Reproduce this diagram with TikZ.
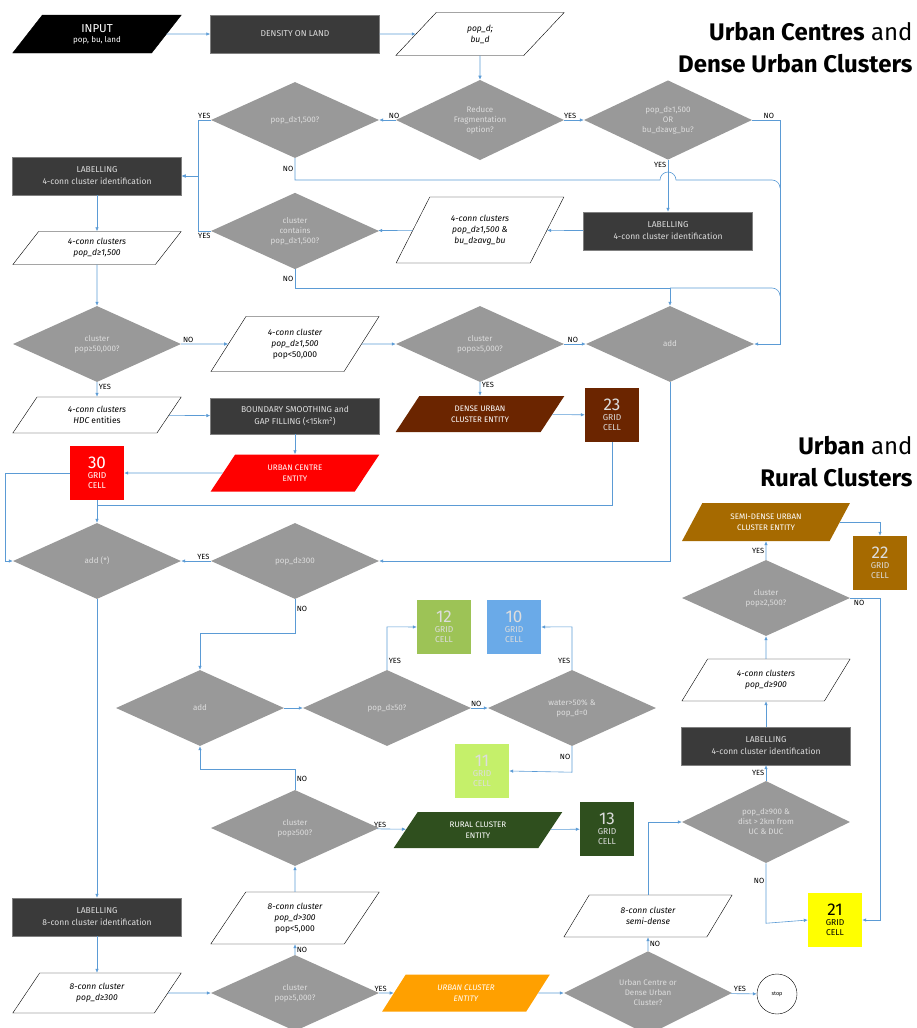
\documentclass[tikz,border=0pt]{standalone}
\usepackage{fontspec}
\setmainfont{Fira Sans}
\usetikzlibrary{shapes.geometric,arrows.meta,positioning}

\definecolor{flowblue}{HTML}{5B9BD5}
\definecolor{diagray}{HTML}{999999}
\definecolor{procgray}{HTML}{3A3A3A}
\definecolor{dimtext}{HTML}{DDDDDD}
\definecolor{ucred}{HTML}{FF0000}
\definecolor{ducbrown}{HTML}{6B2500}
\definecolor{sducbrown}{HTML}{A66A00}
\definecolor{rcgreen}{HTML}{2F4F1E}
\definecolor{lowgreen}{HTML}{9DC356}
\definecolor{verylow}{HTML}{C5F06A}
\definecolor{watblue}{HTML}{6AAAE8}
\definecolor{ucyellow}{HTML}{FFFF00}
\definecolor{ucorange}{HTML}{FFA000}

\tikzset{
  dia/.style = {diamond, fill=diagray, text=dimtext, minimum width=168pt, minimum height=76pt,
                inner sep=0pt, align=center, font=\fontsize{8}{10}\selectfont},
  proc/.style = {rectangle, fill=procgray, draw=gray, text=dimtext, minimum width=169pt,
                 minimum height=38pt, align=center, font=\fontsize{8.5}{12}\selectfont},
  io/.style = {trapezium, trapezium left angle=58, trapezium right angle=122, trapezium stretches=true,
               draw=black, fill=white, minimum width=169pt, minimum height=38pt, inner sep=1pt,
               align=center, font=\itshape\fontsize{8.5}{11}\selectfont},
  entity/.style = {io, draw=none, text=white, font=\fontsize{8}{11}\selectfont},
  cell/.style = {rectangle, minimum size=54pt, inner sep=0pt, align=center, text=dimtext,
                 font=\fontsize{8.5}{10}\selectfont},
  lbl/.style = {font=\fontsize{7.5}{8}\selectfont, inner sep=1.5pt},
  arr/.style = {draw=flowblue, line width=0.6pt, -{Latex[length=4pt,width=3.5pt]}},
  ln/.style = {draw=flowblue, line width=0.6pt},
}
\newcommand{\num}[1]{{\fontsize{17}{18}\selectfont #1}}

\begin{document}
\begin{tikzpicture}[x=1pt,y=-1pt]
\useasboundingbox (0,0) rectangle (917,1028);

% titles
\node[anchor=east, font=\fontsize{24}{26}\selectfont] (title1) at (916,32) {\textbf{Urban Centres} and};
\node[anchor=east, font=\fontsize{24}{26}\selectfont] (title2) at (916,64) {\textbf{Dense Urban Clusters}};
\node[anchor=east, font=\fontsize{24}{26}\selectfont] (title3) at (916,446) {\textbf{Urban} and};
\node[anchor=east, font=\fontsize{24}{26}\selectfont] (title4) at (916,478) {\textbf{Rural Clusters}};

% urban centres and dense urban clusters
\node[io, fill=black, text=white, font=\fontsize{8}{10}\selectfont] (input) at (97,34) {{\fontsize{11.5}{13}\selectfont INPUT}\\pop, bu, land};
\node[proc] (dens) at (295,34) {DENSITY ON LAND};
\node[io, minimum height=43pt] (popd) at (480,34) {pop\_d;\\bu\_d};
\node[dia] (redfrag) at (480,120) {Reduce\\Fragmentation\\option?};
\node[dia] (hd1500) at (295,120) {pop\_d≥1,500?};
\node[dia] (hdor) at (668,120) {pop\_d≥1,500\\OR\\bu\_d≥avg\_bu?};
\node[proc] (lab4a) at (97,176) {LABELLING\\4-conn cluster identification};
\node[proc] (lab4b) at (668,231) {LABELLING\\4-conn cluster identification};
\node[io, minimum height=66pt] (c4ab) at (480,230) {4-conn clusters\\pop\_d≥1,500 \&\\bu\_d≥avg\_bu};
\node[dia] (contains) at (295,231) {cluster\\contains\\pop\_d≥1,500?};
\node[io, minimum height=33pt] (c4a) at (97,248) {4-conn clusters\\pop\_d≥1,500};
\node[dia] (pop50k) at (97,344) {cluster\\pop≥50,000?};
\node[io, minimum height=55pt] (c4small) at (295,344) {4-conn cluster\\pop\_d≥1,500\\\upshape pop<50,000};
\node[dia] (pop5ka) at (480,344) {cluster\\popo≥5,000?};
\node[dia] (adda) at (670,344) {add};
\node[io, minimum height=36pt] (hdc) at (97,415) {4-conn clusters\\HDC \upshape entities};
\node[proc, minimum height=36pt] (smooth) at (295,416) {BOUNDARY SMOOTHING and\\GAP FILLING (<15km\textsuperscript{2})};
\node[entity, fill=ducbrown, minimum height=36pt] (duc) at (480,414) {DENSE URBAN\\CLUSTER ENTITY};
\node[cell, fill=ducbrown] (c23) at (612,415) {\num{23}\\GRID\\CELL};
\node[entity, fill=ucred, minimum height=37pt] (ucent) at (295,473) {URBAN CENTRE\\ENTITY};
\node[cell, fill=ucred, text=white] (c30) at (97,473) {\num{30}\\GRID\\CELL};
\node[dia] (addb) at (97,561) {add (*)};
\node[dia] (pd300) at (295,561) {pop\_d≥300};

% urban and rural clusters
\node[dia] (addc) at (200,708) {add};
\node[dia] (pd50) at (387,708) {pop\_d≥50?};
\node[dia] (water) at (572,708) {water>50\% \&\\pop\_d=0};
\node[cell, fill=lowgreen] (c12) at (444,627) {\num{12}\\GRID\\CELL};
\node[cell, fill=watblue] (c10) at (514,627) {\num{10}\\GRID\\CELL};
\node[cell, fill=verylow] (c11) at (482,771) {\num{11}\\GRID\\CELL};
\node[dia] (pop500) at (295,828) {cluster\\pop≥500?};
\node[entity, fill=rcgreen, minimum height=36pt] (rural) at (478,830) {RURAL CLUSTER\\ENTITY};
\node[cell, fill=rcgreen] (c13) at (607,829) {\num{13}\\GRID\\CELL};
\node[proc] (lab8) at (97,917) {LABELLING\\8-conn cluster identification};
\node[io, minimum height=40pt] (c8a) at (97,993) {8-conn cluster\\pop\_d≥300};
\node[io, minimum height=52pt] (c8b) at (295,918) {8-conn cluster\\pop\_d>300\\\upshape pop<5,000};
\node[dia] (pop5kb) at (295,993) {cluster\\pop≥5,000?};
\node[entity, fill=ucorange, minimum height=37pt, font=\itshape\fontsize{8}{11}\selectfont] (ucl) at (466,993) {URBAN CLUSTER\\ENTITY};
\node[dia] (ucdu) at (648,993) {Urban Centre or\\Dense Urban\\Cluster?};
\node[circle, draw=black, minimum size=40pt, inner sep=0pt, font=\fontsize{5.5}{6}\selectfont] (stop) at (777,994) {stop};
\node[io, minimum height=42pt] (c8semi) at (648,916) {8-conn cluster\\semi-dense};
\node[dia] (pd900) at (766,822) {pop\_d≥900 \&\\dist > 2km from\\UC \& DUC};
\node[proc] (lab4c) at (766,746) {LABELLING\\4-conn cluster identification};
\node[io, minimum height=42pt] (c4c) at (766,680) {4-conn clusters\\pop\_d≥900};
\node[dia] (pop2500) at (766,598) {cluster\\pop≥2,500?};
\node[entity, fill=sducbrown, minimum height=38pt] (sduc) at (766,522) {SEMI-DENSE URBAN\\CLUSTER ENTITY};
\node[cell, fill=sducbrown] (c22) at (880,563) {\num{22}\\GRID\\CELL};
\node[cell, fill=ucyellow, text=black] (c21) at (835,920) {\num{21}\\GRID\\CELL};

\coordinate (rcolA) at (780,120);
\coordinate (rowA) at (0,180);
\coordinate (rowB) at (0,288);
\coordinate (rowC) at (0,505);
\coordinate (rcolB) at (880,598);

% connectors, top part
\draw[arr] (input) -- (dens);
\draw[arr] (dens) -- (popd);
\draw[arr] (popd) -- (redfrag);
\draw[arr] (redfrag) -- node[lbl, above, pos=0.1] (l1) {NO} (hd1500);
\draw[arr] (redfrag) -- node[lbl, above, pos=0.3] (l2) {YES} (hdor);
\draw[arr] (hdor.east) -- node[lbl, above, pos=0.6] (l3) {NO} (rcolA) -- (rcolA |- adda.east) -- (adda.east);
\draw[arr] (hdor.south) -- node[lbl, pos=0.1, left] (l4) {YES} (lab4b.north);
\draw[arr] (hd1500.west) -- node[lbl, above, pos=0.5] (l5) {YES} ++(-13,0) |- (lab4a.east);
\draw[arr] (contains.west) -- node[lbl, below, pos=0.5] (l6) {YES} ++(-13,0) |- (lab4a.east);
\draw[ln] (hd1500.south) -- node[lbl, left, pos=0.5] (l7) {NO} (hd1500.south |- rowA) -- (660,180)
  arc[start angle=180, end angle=360, radius=8] -- (772,180) to[out=0, in=90] (780,188);
\draw[arr] (lab4b) -- (c4ab);
\draw[arr] (c4ab) -- (contains);
\draw[arr] (contains.south) -- node[lbl, left, pos=0.5] (l8) {NO} (contains.south |- rowB) -- (adda.north |- rowB) -- (adda.north);
\draw[ln] (adda.north |- rowB) -- (772,288) to[out=0, in=90] (780,296);
\draw[arr] (lab4a) -- (c4a);
\draw[arr] (c4a) -- (pop50k);
\draw[arr] (pop50k) -- node[lbl, above, pos=0.15] (l9) {NO} (c4small);
\draw[arr] (c4small) -- (pop5ka);
\draw[arr] (pop5ka) -- node[lbl, above, pos=0.4] (l10) {NO} (adda);
\draw[arr] (pop5ka.south) -- node[lbl, right, pos=0.2] (l11) {YES} (duc);
\draw[arr] (duc) -- (c23);
\draw[arr] (pop50k.south) -- node[lbl, right, pos=0.3] (l12) {YES} (hdc);
\draw[arr] (hdc) -- (smooth);
\draw[arr] (smooth) -- (ucent);
\draw[arr] (ucent) -- (c30);
\draw[arr] (c30.west) -- ++(-65,0) |- (addb.west);
\draw[arr] (c30) -- (addb);
\draw[ln] (c23.south) |- (c30.south |- rowC);
\draw[arr] (adda.south) |- (pd300.east);
\draw[arr] (pd300) -- node[lbl, above, pos=0.25] (l13) {YES} (addb);
\draw[arr] (addb) -- (lab8);

% connectors, bottom part
\draw[arr] (pd300.south) -- node[lbl, right, pos=0.3] (l14) {NO} ++(0,34) -| (addc.north);
\draw[arr] (addc) -- (pd50);
\draw[arr] (pd50.north) -- node[lbl, right, pos=0.2] (l15) {YES} ++(0,-43) -- (c12.west);
\draw[arr] (pd50) -- node[lbl, above, pos=0.3] (l16) {NO} (water);
\draw[arr] (water.north) -- node[lbl, left, pos=0.2] (l17) {YES} ++(0,-43) -- (c10.east);
\draw[arr] (water.south) -- node[lbl, left, pos=0.4] (l18) {NO} ++(0,26) -- (c11.east);
\draw[arr] (pop500.north) -- node[lbl, right, pos=0.5] (l19) {NO} ++(0,-21) -| (addc.south);
\draw[arr] (pop500) -- node[lbl, above, pos=0.1] (l20) {YES} (rural);
\draw[arr] (rural) -- (c13);
\draw[arr] (lab8) -- (c8a);
\draw[arr] (c8a) -- (pop5kb);
\draw[arr] (pop5kb.north) -- node[lbl, right] (l21) {NO} (c8b.south);
\draw[arr] (c8b) -- (pop500);
\draw[arr] (pop5kb) -- node[lbl, above, pos=0.1] (l22) {YES} (ucl);
\draw[arr] (ucl) -- (ucdu);
\draw[arr] (ucdu) -- node[lbl, above, pos=0.35] (l23) {YES} (stop);
\draw[arr] (ucdu.north) -- node[lbl, right] (l24) {NO} (c8semi.south);
\draw[arr] (c8semi.north) |- (pd900.west);
\draw[arr] (pd900.north) -- node[lbl, left] (l25) {YES} (lab4c.south);
\draw[arr] (lab4c) -- (c4c);
\draw[arr] (c4c) -- (pop2500);
\draw[arr] (pop2500.north) -- node[lbl, left] (l26) {YES} (sduc.south);
\draw[arr] (sduc.east) -| (c22.north);
\draw[arr] (pop2500.east) -- node[lbl, below, pos=0.3] (l27) {NO} (rcolB) |- (c21.east);
\draw[arr] (pd900.south) -- node[lbl, left, pos=0.3] (l28) {NO} ++(0,60) -- (c21.west);
\end{tikzpicture}
\end{document}
